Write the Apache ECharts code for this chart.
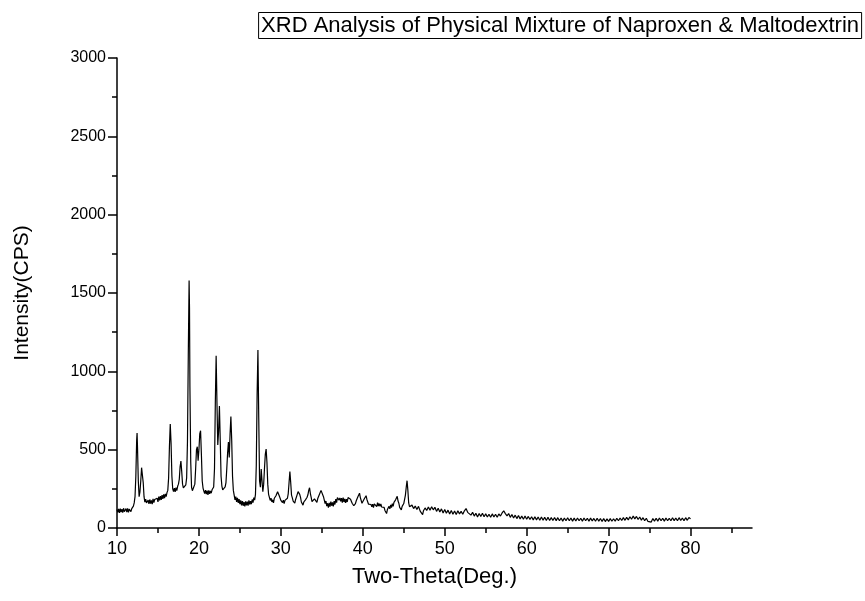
<!DOCTYPE html>
<html>
<head>
<meta charset="utf-8">
<title>XRD Analysis</title>
<script src="https://cdn.jsdelivr.net/npm/echarts@6/dist/echarts.min.js"></script>
<style>
  html, body { margin: 0; padding: 0; background: #fff; }
  #chart { width: 865px; height: 601px; }
</style>
</head>
<body>
<div id="chart"></div>
<script>
// Diffraction scan as [2θ (deg), intensity (CPS)] pairs, in scan order
const xrdScan = [
  // 10–12°: flat start
  [10.0,118],[10.1,100],[10.2,122],[10.3,96],[10.4,124],[10.5,102],[10.6,120],[10.7,98],
  [10.8,126],[10.9,104],[11.0,100],[11.1,124],[11.2,102],[11.3,126],[11.4,100],[11.5,120],
  [11.6,128],[11.7,104],[11.8,124],[11.9,130],[12.0,140],[12.1,160],
  // 12.5° / 13.1° doublet
  [12.2,200],[12.3,330],[12.4,560],[12.45,606],[12.5,520],[12.6,300],[12.7,200],[12.8,230],
  [12.9,300],[13.0,385],[13.1,390],[13.2,290],[13.3,200],
  // rising background
  [13.4,165],[13.5,184],[13.6,160],[13.7,152],[13.8,178],[13.9,154],[14.0,182],[14.1,156],
  [14.2,176],[14.3,152],[14.4,186],[14.5,162],[14.6,182],[14.7,194],[14.8,170],[14.9,190],
  [15.0,166],[15.1,200],[15.2,176],[15.3,204],[15.4,180],[15.5,210],[15.6,186],[15.7,214],
  [15.8,190],[15.9,218],[16.0,200],[16.1,226],[16.2,240],
  // main crystalline reflections 16–24°
  [16.3,320],[16.4,520],[16.5,664],[16.6,540],[16.7,330],[16.8,250],[16.9,232],[17.0,254],
  [17.1,230],[17.2,258],[17.3,238],[17.4,266],[17.5,280],[17.6,310],[17.7,390],[17.8,427],
  [17.9,360],[18.0,280],[18.1,256],[18.2,262],[18.3,250],[18.4,276],[18.5,320],[18.6,550],
  [18.7,1100],[18.8,1580],[18.85,1400],[18.9,900],[19.0,420],[19.1,260],[19.2,238],[19.3,246],
  [19.4,232],[19.5,280],[19.6,380],[19.7,500],[19.8,519],[19.9,430],[20.0,500],[20.1,600],
  [20.2,621],[20.3,470],[20.4,300],[20.5,255],[20.6,236],[20.7,220],[20.8,242],[20.9,216],
  [21.0,238],[21.1,212],[21.2,240],[21.3,218],[21.4,236],[21.5,222],[21.6,244],[21.7,236],
  [21.8,262],[21.9,380],[22.0,800],[22.1,1100],[22.2,800],[22.3,530],[22.4,620],[22.5,779],
  [22.6,560],[22.7,330],[22.8,268],[22.9,244],[23.0,256],[23.1,236],[23.2,262],[23.3,290],
  [23.4,380],[23.5,480],[23.6,549],[23.7,450],[23.8,600],[23.9,711],[24.0,560],[24.1,330],
  [24.2,240],
  // 24–27° background
  [24.3,210],[24.4,180],[24.5,200],[24.6,166],[24.7,192],[24.8,160],[24.9,184],[25.0,152],
  [25.1,176],[25.2,144],[25.3,172],[25.4,142],[25.5,166],[25.6,138],[25.7,170],[25.8,144],
  [25.9,168],[26.0,142],[26.1,176],[26.2,150],[26.3,172],[26.4,152],[26.5,182],[26.6,162],
  [26.7,194],[26.8,178],[26.9,215],
  // 27–35° reflections
  [27.0,400],[27.1,850],[27.2,1136],[27.3,700],[27.4,300],[27.5,260],[27.6,376],[27.7,300],
  [27.8,232],[27.9,280],[28.0,380],[28.1,470],[28.2,504],[28.3,420],[28.4,280],[28.5,215],
  [28.6,196],[28.7,176],[28.8,190],[28.9,166],[29.0,180],[29.1,160],[29.2,190],[29.3,180],
  [29.4,206],[29.5,212],[29.6,232],[29.7,236],[29.8,206],[29.9,196],[30.0,176],[30.1,184],
  [30.2,162],[30.3,178],[30.4,156],[30.5,176],[30.6,168],[30.7,186],[30.8,190],[30.9,220],
  [31.0,290],[31.1,360],[31.2,290],[31.3,210],[31.4,192],[31.5,172],[31.6,180],[31.7,158],
  [31.8,182],[31.9,184],[32.0,215],[32.1,232],[32.2,243],[32.3,215],[32.4,196],[32.5,166],
  [32.6,172],[32.7,146],[32.8,166],[32.9,158],[33.0,180],[33.1,172],[33.2,196],[33.3,212],
  [33.4,240],[33.5,257],[33.6,220],[33.7,196],[33.8,168],[33.9,172],[34.0,160],[34.1,186],
  [34.2,178],[34.3,190],[34.4,164],[34.5,188],[34.6,190],[34.7,214],[34.8,222],[34.9,240],
  [35.0,243],[35.1,230],[35.2,200],
  // 35–46° weak reflections
  [35.3,178],[35.4,156],[35.5,172],[35.6,140],[35.7,158],[35.8,130],[35.9,160],[36.0,136],
  [36.1,168],[36.2,142],[36.3,164],[36.4,138],[36.5,172],[36.6,150],[36.7,184],[36.8,162],
  [36.9,194],[37.0,204],[37.1,178],[37.2,192],[37.3,170],[37.4,190],[37.5,162],[37.6,194],
  [37.7,166],[37.8,186],[37.9,160],[38.0,184],[38.1,166],[38.2,194],[38.3,182],[38.4,206],
  [38.5,184],[38.6,180],[38.7,158],[38.8,166],[38.9,142],[39.0,150],[39.1,156],[39.2,174],
  [39.3,178],[39.4,200],[39.5,206],[39.6,222],[39.7,194],[39.8,182],[39.9,158],[40.0,164],
  [40.1,166],[40.2,188],[40.3,190],[40.4,206],[40.5,182],[40.6,176],[40.7,152],[40.8,160],
  [40.9,146],[41.0,150],[41.1,136],[41.2,152],[41.3,130],[41.4,154],[41.5,146],[41.6,156],
  [41.7,136],[41.8,162],[41.9,140],[42.0,156],[42.1,138],[42.2,154],[42.3,134],[42.4,146],
  [42.5,124],[42.6,132],[42.7,112],[42.8,108],[42.9,92],[43.0,118],[43.1,114],[43.2,138],
  [43.3,122],[43.4,148],[43.5,130],[43.6,156],[43.7,138],[43.8,164],[43.9,158],[44.0,180],
  [44.1,186],[44.2,202],[44.3,172],[44.4,158],[44.5,132],[44.6,130],[44.7,116],[44.8,138],
  [44.9,136],[45.0,156],[45.1,168],[45.2,210],[45.3,260],[45.4,302],[45.5,240],[45.6,160],
  [45.7,136],
  // 46–80° amorphous tail
  [45.8,130],[46.0,146],[46.2,124],[46.4,140],[46.6,118],[46.8,138],[47.0,108],[47.2,96],
  [47.3,86],[47.4,110],[47.6,128],[47.8,112],[48.0,134],[48.2,114],[48.4,136],[48.6,116],
  [48.8,132],[49.0,106],[49.2,126],[49.4,102],[49.6,122],[49.8,96],[50.0,118],[50.2,94],
  [50.4,114],[50.6,90],[50.8,112],[51.0,88],[51.2,108],[51.4,86],[51.6,110],[51.8,90],
  [52.0,106],[52.2,88],[52.4,110],[52.6,124],[52.8,100],[53.0,92],[53.2,82],[53.4,100],
  [53.6,76],[53.8,94],[54.0,70],[54.2,92],[54.4,74],[54.6,94],[54.8,72],[55.0,90],
  [55.2,70],[55.4,88],[55.6,68],[55.8,90],[56.0,70],[56.2,88],[56.4,68],[56.6,90],
  [56.8,76],[57.0,96],[57.2,110],[57.3,118],[57.4,92],[57.6,78],[57.8,92],[58.0,68],
  [58.2,86],[58.4,64],[58.6,82],[58.8,60],[59.0,80],[59.2,58],[59.4,76],[59.6,56],
  [59.8,76],[60.0,56],[60.2,74],[60.4,54],[60.6,72],[60.8,52],[61.0,72],[61.2,52],
  [61.4,70],[61.6,50],[61.8,70],[62.0,50],[62.2,68],[62.4,48],[62.6,68],[62.8,48],
  [63.0,66],[63.2,48],[63.4,67],[63.6,47],[63.8,66],[64.0,46],[64.2,64],[64.4,44],
  [64.6,64],[64.8,46],[65.0,65],[65.2,46],[65.4,64],[65.6,44],[65.8,63],[66.0,45],
  [66.2,64],[66.4,46],[66.6,62],[66.8,44],[67.0,64],[67.2,46],[67.4,62],[67.6,44],
  [67.8,63],[68.0,45],[68.2,61],[68.4,43],[68.6,62],[68.8,44],[69.0,61],[69.2,42],
  [69.4,60],[69.6,41],[69.8,58],[70.0,42],[70.2,60],[70.4,43],[70.6,59],[70.8,44],
  [71.0,62],[71.2,46],[71.4,64],[71.6,48],[71.8,66],[72.0,49],[72.2,68],[72.4,52],
  [72.6,72],[72.8,56],[73.0,76],[73.2,58],[73.4,74],[73.6,54],[73.8,70],[74.0,50],
  [74.2,66],[74.4,46],[74.6,62],[74.8,42],[75.0,48],[75.2,38],[75.4,60],[75.6,44],
  [75.8,62],[76.0,44],[76.2,64],[76.4,46],[76.6,62],[76.8,44],[77.0,64],[77.2,46],
  [77.4,62],[77.6,46],[77.8,65],[78.0,47],[78.2,64],[78.4,46],[78.6,66],[78.8,48],
  [79.0,64],[79.2,46],[79.4,66],[79.6,49],[79.8,67],[80.0,58]
];

// Axis ranges and tick positions
const xMin = 10, xMax = 87.5, xStep = 10;
const xMajorTicks = [10, 20, 30, 40, 50, 60, 70, 80];
const xMinorTicks = [15, 25, 35, 45, 55, 65, 75, 85];
const yMin = 0, yMax = 3000, yStep = 500;

const titleText = 'XRD Analysis of Physical Mixture of Naproxen & Maltodextrin';
const xName = 'Two-Theta(Deg.)';
const yName = 'Intensity(CPS)';

const font = 'Liberation Sans, Arial, sans-serif';
const ink = '#000';

const chart = echarts.init(document.getElementById('chart'), null, { renderer: 'canvas' });
chart.setOption({
  backgroundColor: '#fff',
  animation: false,
  title: {
    text: titleText,
    right: 3,
    top: 12,
    padding: [1, 3, 1, 3],
    borderColor: ink,
    borderWidth: 1,
    textStyle: { fontFamily: font, fontSize: 22, fontWeight: 'normal', color: ink, lineHeight: 25 }
  },
  grid: { left: 117, right: 113, top: 58, bottom: 73 },
  xAxis: [
    {
      type: 'value',
      min: xMin, max: xMax, interval: xStep,
      name: xName,
      nameLocation: 'middle',
      nameGap: 38,
      nameTextStyle: { fontFamily: font, fontSize: 22, color: ink },
      axisLine: { show: true, onZero: false, lineStyle: { color: ink, width: 1.5 } },
      axisTick: { show: true, inside: false, length: 8, customValues: xMajorTicks, lineStyle: { color: ink, width: 1.5 } },
      axisLabel: { customValues: xMajorTicks, margin: 12, fontFamily: font, fontSize: 18, color: ink },
      splitLine: { show: false }
    },
    {
      type: 'value',
      min: xMin, max: xMax,
      position: 'bottom',
      axisLine: { show: false },
      axisTick: { show: true, inside: false, length: 5, customValues: xMinorTicks, lineStyle: { color: ink, width: 1.5 } },
      axisLabel: { show: false },
      splitLine: { show: false }
    }
  ],
  yAxis: {
    type: 'value',
    min: yMin, max: yMax, interval: yStep,
    name: yName,
    nameLocation: 'middle',
    nameGap: 84,
    nameTextStyle: { fontFamily: font, fontSize: 21, color: ink },
    axisLine: { show: true, lineStyle: { color: ink, width: 1.5 } },
    axisTick: { show: true, inside: false, length: 9, lineStyle: { color: ink, width: 1.5 } },
    minorTick: { show: true, splitNumber: 2, length: 5, lineStyle: { color: ink, width: 1.5 } },
    axisLabel: { margin: 11, fontFamily: font, fontSize: 16, color: ink, formatter: (v) => String(v) },
    splitLine: { show: false },
    minorSplitLine: { show: false }
  },
  series: [{
    type: 'line',
    data: xrdScan,
    showSymbol: false,
    symbol: 'none',
    sampling: false,
    lineStyle: { color: ink, width: 1.2 },
    emphasis: { disabled: true }
  }]
});
</script>
</body>
</html>
